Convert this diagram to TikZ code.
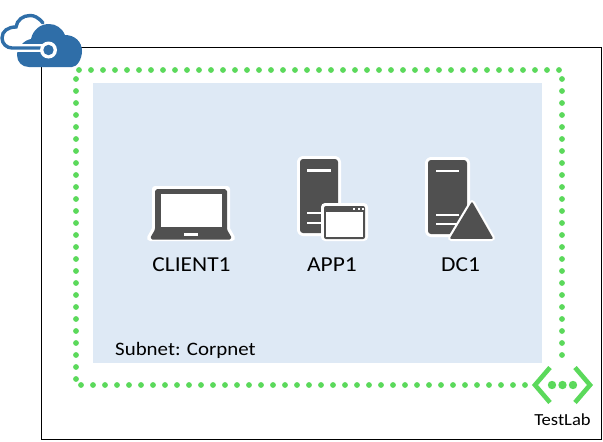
\documentclass[tikz,border=0pt]{standalone}
\usepackage{fontspec}
\setmainfont{Carlito}
\newfontfamily\widefont[FakeStretch=1.1]{Carlito}
\definecolor{grn}{HTML}{5BD95B}
\definecolor{subnetblue}{HTML}{DEE9F5}
\definecolor{darkgr}{HTML}{505050}
\definecolor{azure}{HTML}{2F6EA8}
\tikzset{
  dotline/.style={grn,line width=5.8pt,line cap=round,dash pattern=on 0pt off 12pt},
  halo/.style={draw=white,line width=6pt,line join=round,fill=white},
  darkfill/.style={fill=darkgr,draw=darkgr,line join=round},
  bar/.style={draw=white,line width=2.2pt},
  lab/.style={inner sep=0pt,text=black,font=\widefont\fontsize{21.3}{24}\selectfont},
  chev/.style={grn,line width=4.6pt},
}
\begin{document}
\begin{tikzpicture}[x=1pt,y=-1pt]
\useasboundingbox (0,0) rectangle (603,442);
\fill[white] (0,0) rectangle (603,442);
\draw[black,line width=1pt] (41.5,47.5) rectangle (601.5,439.5);
\fill[subnetblue] (93,83) rectangle (542,363);
% dotted boundary
\draw[dotline] (79,70) -- (565,70);
\draw[dotline] (562,79) -- (562,358);
\draw[dotline] (76,79) -- (76,382);
\draw[dotline] (81,385) -- (530,385);
% gateway
\draw[chev] (550,367.5) -- (535,385) -- (550,402.5);
\draw[chev] (575,367.5) -- (590,385) -- (575,402.5);
\foreach \x in {552,562.5,573} \fill[grn] (\x,385) circle (4.2);
\node[inner sep=0pt,font=\widefont\fontsize{16.9}{20}\selectfont] (testlab) at (562.5,420) {TestLab};
% laptop
\path[halo] (155,189) -- (227,189) -- (227,229) -- (232,238) -- (150,238) -- (155,229) -- cycle;
\filldraw[darkfill,line width=2pt,rounded corners=1.5pt] (156,190) -- (226,190) -- (226,230) -- (231,238.5) -- (151,238.5) -- (156,230) -- cycle;
\fill[white] (161,194) rectangle (222,227);
\fill[white] (184,233) rectangle (198,236);
\node[lab] (client) at (191.5,265) {CLIENT1};
% app server
\path[halo,rounded corners=3pt] (300,159) rectangle (338,233);
\fill[darkgr,rounded corners=3pt] (300,159) rectangle (338,233);
\draw[bar] (307,170.5) -- (331,170.5);
\draw[bar] (307,213) -- (325,213);
\draw[bar] (307,223) -- (325,223);
\fill[white,rounded corners=4pt] (321,203) rectangle (368,241);
\fill[darkgr,rounded corners=2pt] (324,206) rectangle (365,239);
\fill[white] (326,212) rectangle (363,237);
\foreach \x in {354,358.5,363} \fill[white] (\x-1,208) rectangle (\x+1,210);
\node[lab] (app) at (332,265) {APP1};
% dc server
\path[halo,rounded corners=3pt] (428,160) rectangle (467,234);
\fill[darkgr,rounded corners=3pt] (428,160) rectangle (467,234);
\draw[bar] (436,171) -- (459,171);
\draw[bar] (436,215) -- (459,215);
\draw[bar] (436,224) -- (459,224);
\path[halo] (472,203) -- (492,238) -- (451,238) -- cycle;
\filldraw[darkfill,line width=1.5pt] (472,203) -- (492,238) -- (451,238) -- cycle;
\node[lab] (dc) at (460.5,265) {DC1};
\node[inner sep=0pt,anchor=west,font=\widefont\fontsize{19}{22}\selectfont] (subnet) at (115,350) {Subnet: Corpnet};
% cloud icon
\fill[azure] (29,67) -- (72,67)
  .. controls (77,67) and (82,59) .. (82,51)
  .. controls (82,42) and (75,35) .. (65,35)
  .. controls (62,28) and (56,24) .. (49,24)
  .. controls (40,24) and (33,30) .. (31,39)
  .. controls (24,40) and (17,48) .. (17,55)
  .. controls (17,62) and (22,67) .. (29,67) -- cycle;
\draw[white,line width=7.5pt] (10,48) -- (46,48);
\draw[azure,line width=3.4pt,line cap=round] (43,23)
  .. controls (38,17) and (34,15.5) .. (30,15.5)
  .. controls (23,15.5) and (17,20) .. (16,27)
  .. controls (8,27) and (2,31) .. (2,38)
  .. controls (2,44) and (7,48) .. (12,48) -- (46,48);
\fill[white] (48.5,50) circle (8.5);
\fill[azure] (48.5,50) circle (5.2);
\end{tikzpicture}
\end{document}
